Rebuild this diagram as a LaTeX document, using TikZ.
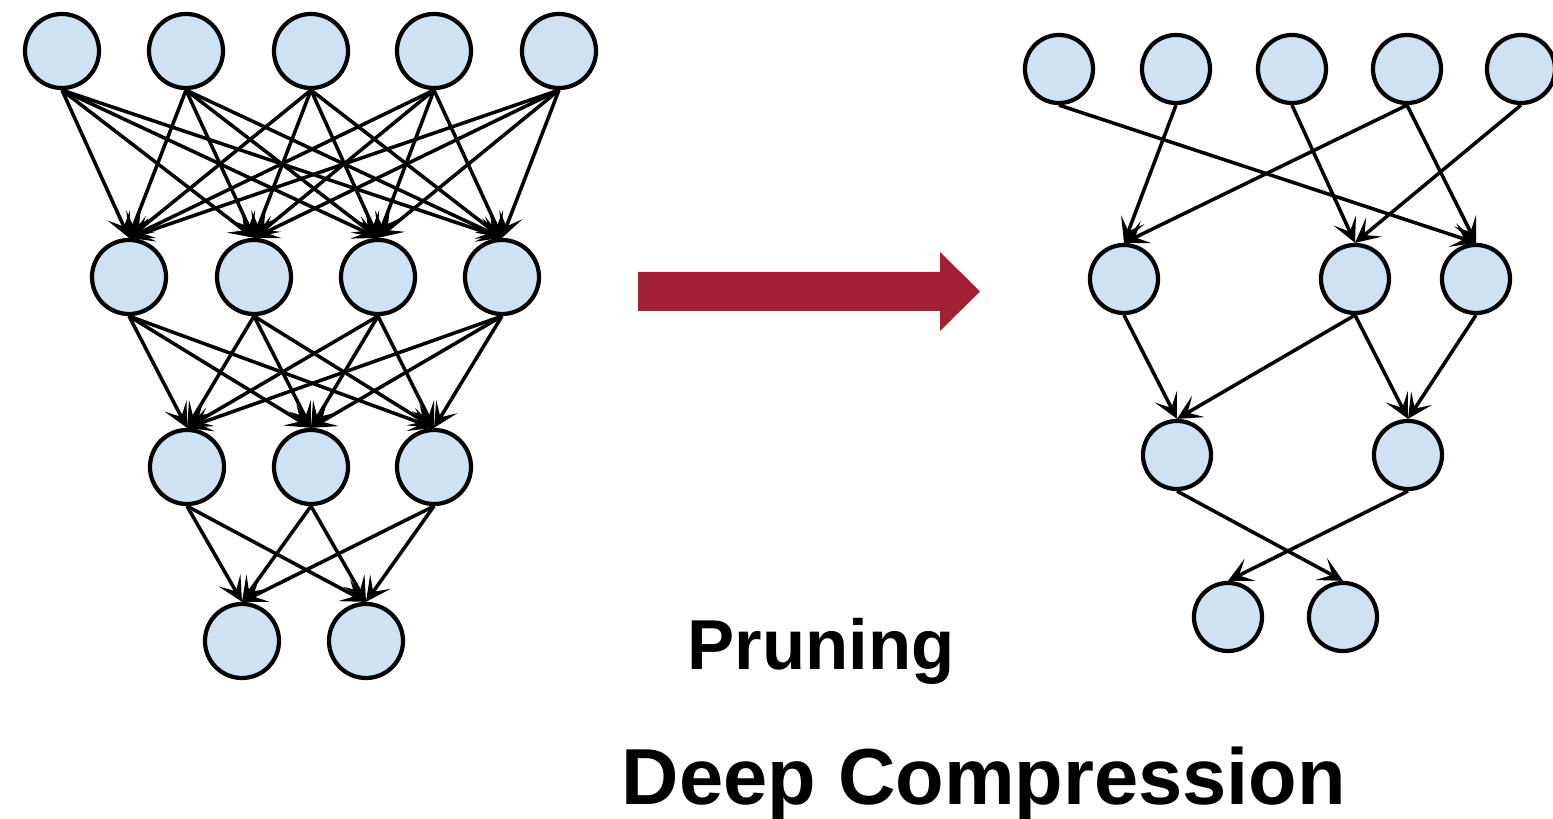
\documentclass[tikz,border=0pt]{standalone}
\usepackage{fontspec}
\setmainfont{Liberation Sans}
\usetikzlibrary{arrows.meta}
\definecolor{nodefill}{HTML}{CFE2F3}
\definecolor{arrowred}{HTML}{A31F34}
\begin{document}
\begin{tikzpicture}[x=0.01cm,y=-0.01cm,
  neuronL/.style={circle,draw=black,line width=1.2pt,fill=nodefill,minimum size=0.74cm,inner sep=0pt},
  neuronR/.style={circle,draw=black,line width=1.2pt,fill=nodefill,minimum size=0.68cm,inner sep=0pt},
  edge/.style={line width=1pt,-{Stealth[length=7pt,width=7pt,inset=3.5pt]}}]
\useasboundingbox (0,0) rectangle (1553,819);
% left network
\foreach \x [count=\i] in {62,186,311,434,559} \node[neuronL] (a\i) at (\x,51) {};
\foreach \x [count=\i] in {129,254,378,502} \node[neuronL] (b\i) at (\x,277) {};
\foreach \x [count=\i] in {187,311,434} \node[neuronL] (c\i) at (\x,467) {};
\foreach \x [count=\i] in {242,366} \node[neuronL] (d\i) at (\x,641) {};
\foreach \i in {1,...,5} \foreach \j in {1,...,4} \draw[edge] (a\i.south) -- (b\j.north);
\foreach \i in {1,...,4} \foreach \j in {1,...,3} \draw[edge] (b\i.south) -- (c\j.north);
\foreach \i in {1,...,3} \foreach \j in {1,2} \draw[edge] (c\i.south) -- (d\j.north);
% right network
\foreach \x [count=\i] in {1059,1176,1292,1407,1521} \node[neuronR] (p\i) at (\x,69) {};
\foreach \x [count=\i] in {1124,1355,1476} \node[neuronR] (q\i) at (\x,279) {};
\foreach \x [count=\i] in {1177,1408} \node[neuronR] (r\i) at (\x,455) {};
\foreach \x [count=\i] in {1228,1343} \node[neuronR] (s\i) at (\x,617) {};
\draw[edge] (p1.south) -- (q3.north);
\draw[edge] (p2.south) -- (q1.north);
\draw[edge] (p3.south) -- (q2.north);
\draw[edge] (p4.south) -- (q1.north);
\draw[edge] (p4.south) -- (q3.north);
\draw[edge] (p5.south) -- (q2.north);
\draw[edge] (q1.south) -- (r1.north);
\draw[edge] (q2.south) -- (r1.north);
\draw[edge] (q2.south) -- (r2.north);
\draw[edge] (q3.south) -- (r2.north);
\draw[edge] (r1.south) -- (s2.north);
\draw[edge] (r2.south) -- (s1.north);
% big arrow
\fill[arrowred] (638,272) -- (940,272) -- (940,252) -- (980,291.5) -- (940,331) -- (940,311) -- (638,311) -- cycle;
% texts
\node[anchor=base,inner sep=0pt,font=\fontsize{20.1pt}{24pt}\selectfont\bfseries] (t1) at (821,670) {Pruning};
\node[anchor=base,inner sep=0pt,font=\fontsize{22.6pt}{27pt}\selectfont\bfseries] (t2) at (984,805) {Deep Compression};
\end{tikzpicture}
\end{document}
